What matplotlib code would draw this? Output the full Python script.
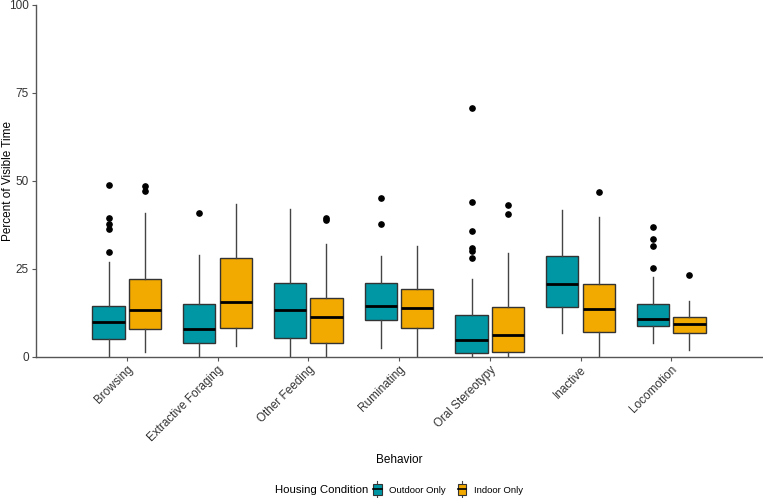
import matplotlib
matplotlib.use("Agg")
import matplotlib.pyplot as plt
from matplotlib.legend_handler import HandlerBase
from matplotlib.patches import Rectangle
from matplotlib.lines import Line2D

plt.rcParams['font.family'] = ['Liberation Sans', 'DejaVu Sans']

categories = ["Browsing", "Extractive Foraging", "Other Feeding", "Ruminating",
              "Oral Stereotypy", "Inactive", "Locomotion"]
conditions = ["Outdoor Only", "Indoor Only"]
colors = ["#0097A5", "#F2A900"]

# Outdoor Only
out_lo = [0.0, 0.0, 0.0, 2.6, 0.0, 6.7, 3.8]
out_q1 = [5.0, 4.0, 5.4, 10.3, 1.0, 14.0, 8.6]
out_med = [10.0, 7.8, 13.2, 14.5, 4.8, 20.7, 10.8]
out_q3 = [14.5, 15.1, 21.0, 21.0, 11.8, 28.6, 15.0]
out_hi = [27.0, 29.0, 42.1, 28.6, 22.0, 41.7, 22.7]
out_fliers = [[29.7, 36.3, 37.7, 39.5, 48.8], [40.8], [], [37.8, 45.0],
              [28.2, 30.1, 30.8, 35.8, 44.0, 70.8], [], [25.2, 31.5, 33.6, 36.9]]

# Indoor Only
in_lo = [1.2, 3.1, 0.0, 0.0, 0.0, 0.0, 1.8]
in_q1 = [7.8, 8.1, 3.8, 8.3, 1.4, 7.1, 6.6]
in_med = [13.3, 15.6, 11.3, 13.8, 6.1, 13.6, 9.2]
in_q3 = [22.0, 28.2, 16.6, 19.3, 14.0, 20.7, 11.2]
in_hi = [40.8, 43.4, 32.0, 31.6, 29.4, 39.7, 15.9]
in_fliers = [[47.2, 48.6], [], [38.9, 39.5], [], [40.6, 43.2], [46.7], [23.3]]

y_ticks = [0, 25, 50, 75, 100]

series = [
    (out_lo, out_q1, out_med, out_q3, out_hi, out_fliers),
    (in_lo, in_q1, in_med, in_q3, in_hi, in_fliers),
]

fig = plt.figure(figsize=(7.63, 4.98), dpi=100)
ax = fig.add_axes([36 / 763, 141.3 / 498, 726 / 763, 351.7 / 498])

offsets = [-0.2, 0.2]
edge = "#333333"
for si, (lo, q1, med, q3, hi, fl) in enumerate(series):
    stats = []
    for i in range(len(categories)):
        stats.append(dict(whislo=lo[i], q1=q1[i], med=med[i], q3=q3[i],
                          whishi=hi[i], fliers=fl[i]))
    pos = [i + 1 + offsets[si] for i in range(len(categories))]
    ax.bxp(stats, positions=pos, widths=0.355, patch_artist=True,
           showcaps=False,
           boxprops=dict(facecolor=colors[si], edgecolor=edge, linewidth=1.0),
           medianprops=dict(color="black", linewidth=2.0),
           whiskerprops=dict(color="#444444", linewidth=1.0),
           flierprops=dict(marker="o", markerfacecolor="black",
                           markeredgecolor="black", markersize=3.8,
                           linestyle="none"),
           zorder=3)

ax.set_xlim(0, 8)
ax.set_ylim(0, 100)
ax.set_xticks(range(1, len(categories) + 1))
ax.set_xticklabels(categories, rotation=45, ha="right", va="top",
                   rotation_mode="anchor", fontsize=8.5, color="#333333")
ax.set_yticks(y_ticks)
ax.set_yticklabels([str(t) for t in y_ticks], fontsize=8.5, color="#333333")
for s in ["top", "right"]:
    ax.spines[s].set_visible(False)
for s in ["left", "bottom"]:
    ax.spines[s].set_color("#555555")
    ax.spines[s].set_linewidth(1.0)
ax.tick_params(axis="both", length=3, width=0.8, color="#555555", pad=2)
ax.set_ylabel("Percent of Visible Time", fontsize=8.5, color="black",
              va="center")
ax.yaxis.set_label_coords((8 - 36) / 726, 0.5)
fig.text(0.5 * (36 + 762) / 763, 1 - 460 / 498, "Behavior", ha="center",
         va="center", fontsize=8.5)


class BoxKeyHandler(HandlerBase):
    def __init__(self, color):
        super().__init__()
        self.color = color

    def create_artists(self, legend, orig_handle, xdescent, ydescent, width,
                       height, fontsize, trans):
        cx = width / 2 - xdescent
        w = width * 0.75
        h = height * 1.3
        y0 = -ydescent + height / 2 - h / 2
        r = Rectangle((cx - w / 2, y0), w, h, facecolor=self.color,
                      edgecolor=edge, linewidth=0.8, transform=trans)
        m = Line2D([cx - w / 2, cx + w / 2], [y0 + h / 2, y0 + h / 2],
                   color="black", linewidth=1.2, transform=trans)
        v1 = Line2D([cx, cx], [y0 - h * 0.25, y0], color="#444444",
                    linewidth=0.8, transform=trans)
        v2 = Line2D([cx, cx], [y0 + h, y0 + h * 1.25], color="#444444",
                    linewidth=0.8, transform=trans)
        return [v1, v2, r, m]


h_out = Rectangle((0, 0), 1, 1)
h_in = Rectangle((0, 0), 1, 2)
leg = fig.legend([h_out, h_in], conditions, loc="center",
                 bbox_to_anchor=(0.5 * (36 + 762) / 763 + 0.063, 1 - 490 / 498),
                 ncol=2, frameon=False, fontsize=6.8, handlelength=1.2,
                 handleheight=0.95, handletextpad=0.6, columnspacing=1.2,
                 handler_map={h_out: BoxKeyHandler(colors[0]),
                              h_in: BoxKeyHandler(colors[1])})
fig.text(368 / 763, 1 - 490 / 498, "Housing Condition", ha="right",
         va="center", fontsize=8.2)

fig.savefig("out.png", dpi=100)
